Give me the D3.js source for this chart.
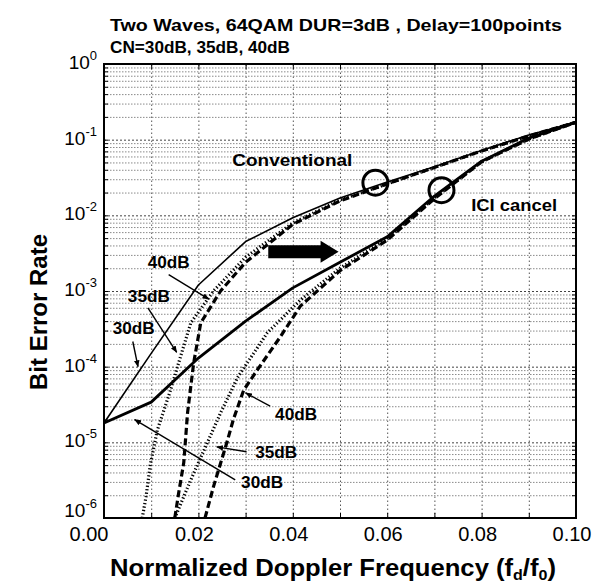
<!DOCTYPE html>
<html>
<head>
<meta charset="utf-8">
<script src="https://cdn.jsdelivr.net/npm/d3@7/dist/d3.min.js"></script>
<style>
  body { margin: 0; background: #fff; }
  svg { display: block; font-family: "Liberation Sans", Arial, sans-serif; }
</style>
</head>
<body>
<svg id="chart" width="592" height="586"></svg>
<script>
// --- Data ---
const titleLines = ["Two Waves, 64QAM  DUR=3dB , Delay=100points", "CN=30dB, 35dB, 40dB"];
const xTicks = [0, 0.02, 0.04, 0.06, 0.08, 0.10];
const xTickLabels = ["0.00", "0.02", "0.04", "0.06", "0.08", "0.10"];
const yExponents = [0, -1, -2, -3, -4, -5, -6];

// Conventional
const convFd30 = [0, 0.01, 0.02, 0.03, 0.04, 0.05, 0.06, 0.07, 0.08, 0.09, 0.10];
const convBer30 = [1.8e-5, 1.5e-4, 1.2e-3, 4.5e-3, 9.3e-3, 1.7e-2, 2.75e-2, 4.4e-2, 7.2e-2, 0.115, 0.17];
const convFd35 = [0.0081, 0.0089, 0.0098, 0.0113, 0.0141, 0.0162, 0.0184, 0.0232, 0.03, 0.04, 0.05, 0.06, 0.07, 0.08, 0.09, 0.10];
const convBer35 = [1e-6, 1.9e-6, 5e-6, 1.45e-5, 4.9e-5, 1.35e-4, 3.8e-4, 1.0e-3, 2.8e-3, 7.9e-3, 1.6e-2, 2.6e-2, 4.3e-2, 7.1e-2, 0.112, 0.17];
const convFd40 = [0.015, 0.0158, 0.0169, 0.0177, 0.019, 0.0205, 0.0247, 0.03, 0.04, 0.05, 0.06, 0.07, 0.08, 0.09, 0.10];
const convBer40 = [1e-6, 2.1e-6, 5.4e-6, 2.45e-5, 1.12e-4, 3.8e-4, 1.0e-3, 2.4e-3, 7.6e-3, 1.55e-2, 2.6e-2, 4.3e-2, 7.1e-2, 0.112, 0.17];

// ICI cancel
const iciFd30 = [0, 0.01, 0.02, 0.03, 0.04, 0.05, 0.06, 0.07, 0.08, 0.09, 0.10];
const iciBer30 = [1.8e-5, 3.4e-5, 1.3e-4, 4.0e-4, 1.1e-3, 2.4e-3, 5.2e-3, 1.8e-2, 5.2e-2, 0.105, 0.17];
const iciFd35 = [0.015, 0.0184, 0.0215, 0.0247, 0.0283, 0.0346, 0.0416, 0.05, 0.06, 0.07, 0.08, 0.09, 0.10];
const iciBer35 = [1e-6, 3.2e-6, 8.7e-6, 2.45e-5, 7.2e-5, 2.8e-4, 7.6e-4, 2.0e-3, 4.9e-3, 1.7e-2, 5.1e-2, 0.102, 0.17];
const iciFd40 = [0.0214, 0.0232, 0.026, 0.0274, 0.0296, 0.0325, 0.0373, 0.0416, 0.05, 0.06, 0.07, 0.08, 0.09, 0.10];
const iciBer40 = [1e-6, 2.6e-6, 9.8e-6, 2.0e-5, 4.9e-5, 9.1e-5, 2.45e-4, 6.3e-4, 1.86e-3, 4.7e-3, 1.66e-2, 5.1e-2, 0.102, 0.17];

// --- Line styles ---
const styles = {
  thin:   { width: 1.6, dash: null },
  solid:  { width: 2.8, dash: null },
  dotted: { width: 3.2, dash: "1.3,2.2" },
  dashed: { width: 3.2, dash: "7,3.5" }
};

const series = [
  { fd: convFd35, ber: convBer35, style: "dotted" },
  { fd: convFd40, ber: convBer40, style: "dashed" },
  { fd: iciFd35, ber: iciBer35, style: "dotted" },
  { fd: iciFd40, ber: iciBer40, style: "dashed" },
  { fd: convFd30, ber: convBer30, style: "thin" },
  { fd: iciFd30, ber: iciBer30, style: "solid" }
];

// --- Scales ---
const plot = { left: 104, right: 576, top: 64, bottom: 518 };
const x = d3.scaleLinear().domain([0, 0.1]).range([plot.left, plot.right]);
const y = d3.scaleLog().domain([1e-6, 1]).range([plot.bottom, plot.top]);

const svg = d3.select("#chart");

svg.append("defs").append("clipPath").attr("id", "clip")
  .append("rect")
  .attr("x", plot.left).attr("y", plot.top)
  .attr("width", plot.right - plot.left).attr("height", plot.bottom - plot.top);

const marker = svg.select("defs").append("marker")
  .attr("id", "head")
  .attr("viewBox", "0 0 10 10")
  .attr("refX", 9).attr("refY", 5)
  .attr("markerWidth", 7).attr("markerHeight", 7)
  .attr("markerUnits", "userSpaceOnUse")
  .attr("orient", "auto");
marker.append("path").attr("d", "M0,1 L10,5 L0,9 Z").attr("fill", "#000");

// --- Grid ---
const minorY = [];
for (let k = -6; k < 0; k++) {
  for (let m = 2; m <= 9; m++) minorY.push(m * Math.pow(10, k));
}
const majorY = yExponents.map(e => Math.pow(10, e));
const gridX = d3.range(1, 10).map(i => i * 0.01);

const grid = svg.append("g").attr("class", "grid");

grid.append("g")
  .attr("transform", `translate(0,${plot.bottom})`)
  .call(d3.axisBottom(x).tickValues(gridX).tickSize(-(plot.bottom - plot.top)).tickFormat(""))
  .call(g => g.select(".domain").remove())
  .selectAll("line")
  .attr("stroke", "#555").attr("stroke-width", 1).attr("stroke-dasharray", "1.5,2.5");

grid.append("g")
  .attr("transform", `translate(${plot.left},0)`)
  .call(d3.axisLeft(y).tickValues(minorY).tickSize(-(plot.right - plot.left)).tickFormat(""))
  .call(g => g.select(".domain").remove())
  .selectAll("line")
  .attr("stroke", "#8a8a8a").attr("stroke-width", 1).attr("stroke-dasharray", "1.5,1.5");

grid.append("g")
  .attr("transform", `translate(${plot.left},0)`)
  .call(d3.axisLeft(y).tickValues(majorY.slice(1, -1)).tickSize(-(plot.right - plot.left)).tickFormat(""))
  .call(g => g.select(".domain").remove())
  .selectAll("line")
  .attr("stroke", "#444").attr("stroke-width", 1).attr("stroke-dasharray", "2,2");

// --- Inward ticks on all four sides ---
const tickX = d3.range(1, 10).map(i => i * 0.01);
svg.append("g").attr("transform", `translate(0,${plot.bottom})`)
  .call(d3.axisBottom(x).tickValues(tickX).tickSize(-5).tickFormat(""))
  .call(g => g.select(".domain").remove());
svg.append("g").attr("transform", `translate(0,${plot.top})`)
  .call(d3.axisTop(x).tickValues(tickX).tickSize(-5).tickFormat(""))
  .call(g => g.select(".domain").remove());
svg.append("g").attr("transform", `translate(${plot.left},0)`)
  .call(d3.axisLeft(y).tickValues(minorY.concat(majorY.slice(1, -1))).tickSize(-4).tickFormat(""))
  .call(g => g.select(".domain").remove());
svg.append("g").attr("transform", `translate(${plot.right},0)`)
  .call(d3.axisRight(y).tickValues(minorY.concat(majorY.slice(1, -1))).tickSize(-4).tickFormat(""))
  .call(g => g.select(".domain").remove());

// --- Curves ---
const line = d3.line().x(d => x(d[0])).y(d => y(d[1]));
const curves = svg.append("g").attr("clip-path", "url(#clip)");
series.forEach(s => {
  const st = styles[s.style];
  curves.append("path")
    .datum(s.fd.map((f, i) => [f, s.ber[i]]))
    .attr("d", line)
    .attr("fill", "none")
    .attr("stroke", "#000")
    .attr("stroke-width", st.width)
    .attr("stroke-dasharray", st.dash)
    .attr("stroke-linejoin", "round");
});

// --- Plot frame ---
svg.append("rect")
  .attr("x", plot.left).attr("y", plot.top)
  .attr("width", plot.right - plot.left).attr("height", plot.bottom - plot.top)
  .attr("fill", "none").attr("stroke", "#000").attr("stroke-width", 2);

// --- Tick labels ---
xTicks.forEach((t, i) => {
  svg.append("text")
    .attr("x", x(t) + (i === 0 ? -15 : -4))
    .attr("y", 541)
    .attr("text-anchor", "middle")
    .style("font-size", "20px")
    .text(xTickLabels[i]);
});

yExponents.forEach(e => {
  const t = svg.append("text")
    .attr("x", 97)
    .attr("y", y(Math.pow(10, e)) + (e === -6 ? -1 : 5))
    .attr("text-anchor", "end")
    .style("font-size", "19px");
  t.append("tspan").text("10");
  t.append("tspan").attr("dy", -9).style("font-size", "13px").text(e === 0 ? "0" : "-" + (-e));
});

// --- Titles ---
svg.append("text")
  .attr("x", 110).attr("y", 31)
  .attr("textLength", 452).attr("lengthAdjust", "spacingAndGlyphs")
  .style("font-size", "17px").style("font-weight", "bold")
  .text(titleLines[0]);
svg.append("text")
  .attr("x", 110).attr("y", 53)
  .attr("textLength", 180).attr("lengthAdjust", "spacingAndGlyphs")
  .style("font-size", "17px").style("font-weight", "bold")
  .text(titleLines[1]);

const xTitle = svg.append("text")
  .attr("x", 110).attr("y", 576)
  .attr("textLength", 446).attr("lengthAdjust", "spacingAndGlyphs")
  .style("font-size", "24px").style("font-weight", "bold");
xTitle.append("tspan").text("Normalized Doppler Frequency (f");
xTitle.append("tspan").attr("dy", 4).style("font-size", "15px").text("d");
xTitle.append("tspan").attr("dy", -4).text("/f");
xTitle.append("tspan").attr("dy", 4).style("font-size", "15px").text("0");
xTitle.append("tspan").attr("dy", -4).text(")");

svg.append("text")
  .attr("transform", "translate(47,312) rotate(-90)")
  .attr("text-anchor", "middle")
  .style("font-size", "24px").style("font-weight", "bold")
  .text("Bit Error Rate");

// --- Annotations (data-space positions) ---
const labels = [
  { text: "Conventional", fd: 0.0399, ber: 5.4e-2, size: 17, len: 120 },
  { text: "ICI cancel",   fd: 0.0869, ber: 1.37e-2, size: 17, len: 86 },
  { text: "40dB", fd: 0.0137, ber: 2.4e-3, size: 16, len: 42 },
  { text: "35dB", fd: 0.0095, ber: 8.5e-4, size: 16, len: 42 },
  { text: "30dB", fd: 0.0063, ber: 3.2e-4, size: 16, len: 42 },
  { text: "40dB", fd: 0.0407, ber: 2.35e-5, size: 16, len: 42 },
  { text: "35dB", fd: 0.0365, ber: 7.4e-6, size: 16, len: 42 },
  { text: "30dB", fd: 0.0335, ber: 3.0e-6, size: 16, len: 42 }
];
labels.forEach(l => {
  svg.append("text")
    .attr("x", x(l.fd)).attr("y", y(l.ber))
    .attr("dy", "0.36em")
    .attr("text-anchor", "middle")
    .attr("textLength", l.len).attr("lengthAdjust", "spacingAndGlyphs")
    .style("font-size", l.size + "px").style("font-weight", "bold")
    .text(l.text);
});

// pointer arrows: [from fd, from ber, to fd, to ber]
const pointers = [
  [0.0137, 1.65e-3, 0.0222, 7.8e-4],
  [0.0093, 6.0e-4, 0.0154, 1.55e-4],
  [0.0061, 2.15e-4, 0.0072, 1.0e-4],
  [0.0352, 3.0e-5, 0.0300, 4.5e-5],
  [0.0302, 7.5e-6, 0.0239, 8.7e-6],
  [0.0278, 3.2e-6, 0.0065, 2.0e-5]
];
svg.append("g").selectAll("line")
  .data(pointers)
  .join("line")
  .attr("x1", d => x(d[0])).attr("y1", d => y(d[1]))
  .attr("x2", d => x(d[2])).attr("y2", d => y(d[3]))
  .attr("stroke", "#000").attr("stroke-width", 1.4)
  .attr("marker-end", "url(#head)");

// circles marking the operating points
const circles = [[0.0575, 2.7e-2], [0.0715, 2.15e-2]];
svg.append("g").selectAll("circle")
  .data(circles)
  .join("circle")
  .attr("cx", d => x(d[0])).attr("cy", d => y(d[1]))
  .attr("r", 12.5)
  .attr("fill", "none").attr("stroke", "#000").attr("stroke-width", 3);

// big block arrow (improvement direction)
const bigArrow = { fd0: 0.0348, fd1: 0.0497, ber: 3.3e-3 };
const ax0 = x(bigArrow.fd0), ax1 = x(bigArrow.fd1), ay = y(bigArrow.ber);
const headW = 18;
svg.append("path")
  .attr("d", `M${ax0},${ay - 6.5} L${ax1 - headW},${ay - 6.5} L${ax1 - headW},${ay - 11} L${ax1},${ay} L${ax1 - headW},${ay + 11} L${ax1 - headW},${ay + 6.5} L${ax0},${ay + 6.5} Z`)
  .attr("fill", "#000");
</script>
</body>
</html>
